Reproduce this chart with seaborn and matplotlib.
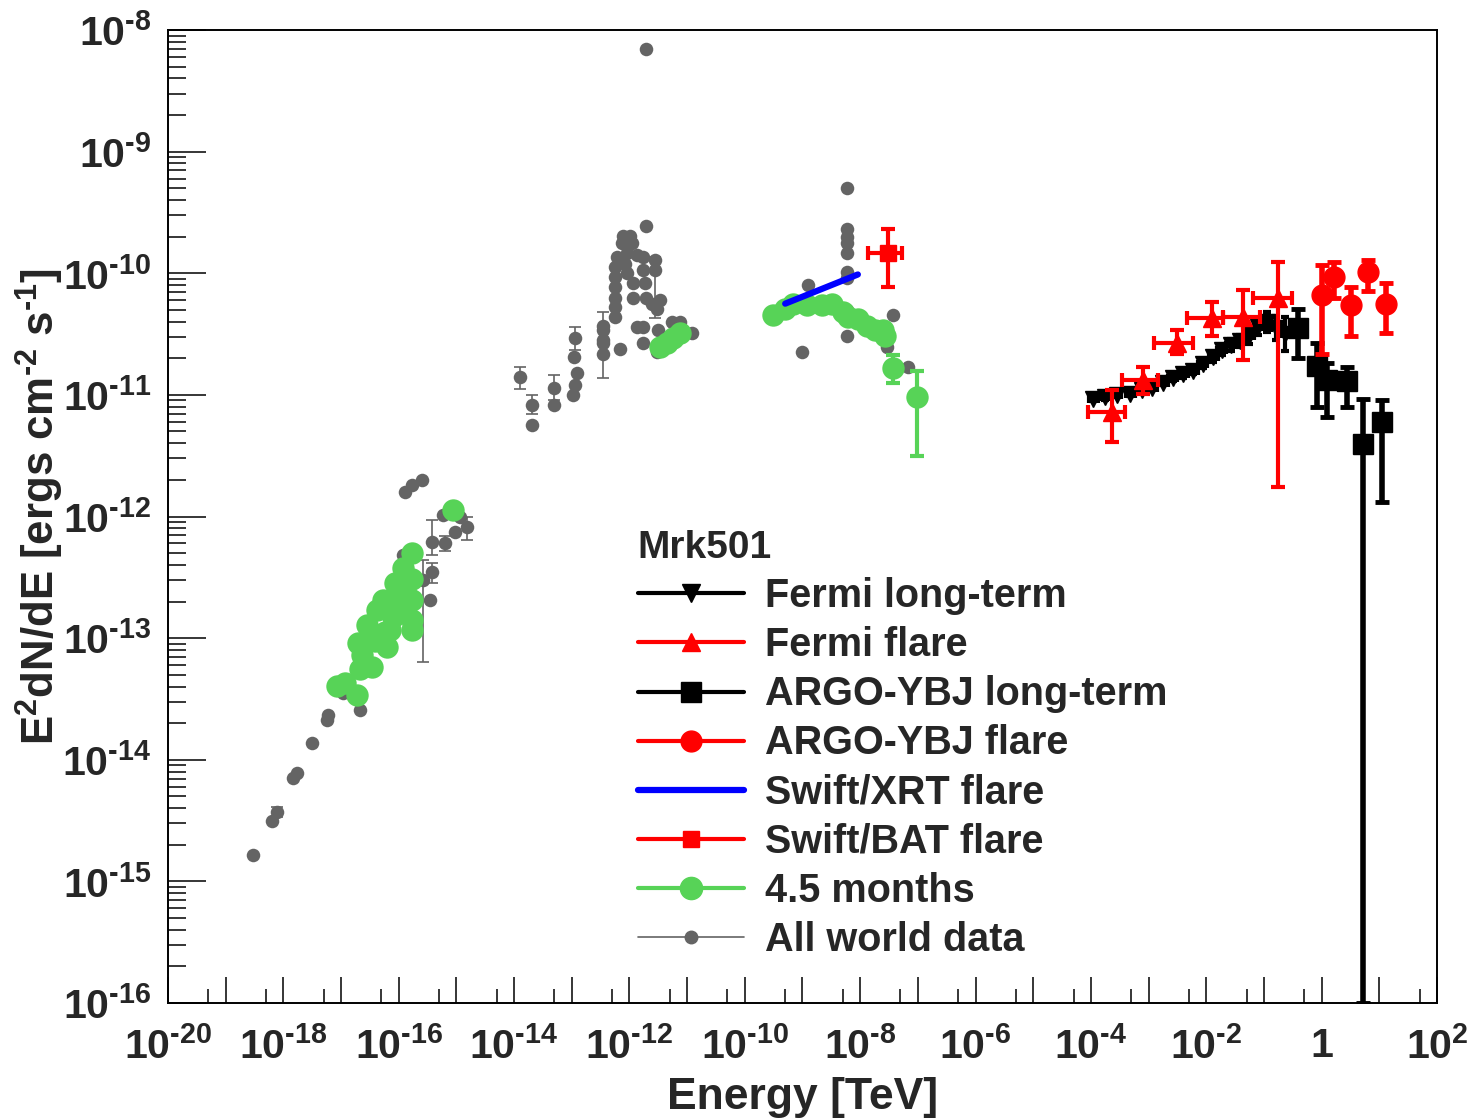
import numpy as np
import pandas as pd
import matplotlib
matplotlib.use("Agg")
import matplotlib.pyplot as plt
import seaborn as sns
from matplotlib.ticker import FixedLocator, FuncFormatter, LogLocator, NullFormatter
from matplotlib.lines import Line2D

# ---------------- data (log10 of Energy [TeV] and of E^2dN/dE [erg cm^-2 s^-1]) -------------
world_logE = [-18.53, -18.20, -18.11, -17.83, -17.76, -17.50, -17.24, -17.23, -16.97, -16.67,
              -15.89, -15.77, -15.60, -15.93, -15.58, -15.42, -15.42, -15.46, -15.23, -15.20,
              -15.02, -14.82, -14.94,
              -13.90, -13.69, -13.69, -13.31, -13.31, -12.94, -12.96, -12.91, -12.94, -12.98,
              -12.46, -12.46, -12.46, -12.16,
              -11.71, -11.71, -12.11, -11.99, -12.13, -11.96, -12.22, -12.04, -11.87, -11.76,
              -11.56, -11.56, -12.25, -12.25, -12.25, -12.25, -12.25, -12.25, -12.07, -12.04,
              -11.94, -11.94, -11.77, -11.73, -11.71, -11.61, -11.52, -11.47, -11.87, -11.76,
              -11.50, -11.76, -11.52, -11.26, -11.12, -10.92, -12.46, -12.46,
              -8.23, -8.23, -8.23, -8.23, -8.23, -8.23, -8.23, -8.90, -9.01, -8.23, -8.23,
              -7.43, -7.53, -7.17]
world_logF = [-14.78, -14.50, -14.43, -14.15, -14.11, -13.86, -13.67, -13.63, -13.45, -13.59,
              -11.80, -11.74, -11.70, -12.32, -12.52, -12.21, -12.46, -12.69, -11.99, -12.22,
              -12.13, -12.09, -12.00,
              -10.85, -11.08, -11.25, -10.94, -11.08, -10.53, -10.69, -10.82, -10.92, -11.00,
              -10.43, -10.57, -10.66, -10.62,
              -8.16, -9.61, -9.69, -9.69, -9.75, -9.75, -9.87, -9.83, -9.85, -9.87,
              -9.89, -9.97, -9.95, -10.03, -10.11, -10.20, -10.28, -10.36, -9.92, -10.00,
              -10.08, -10.20, -9.97, -10.08, -10.20, -10.25, -10.29, -10.22, -10.44, -10.44,
              -10.47, -10.57, -10.65, -10.40, -10.40, -10.49, -10.47, -10.55,
              -9.30, -9.64, -9.70, -9.75, -9.83, -9.99, -10.04, -10.10, -10.65, -10.30, -10.52,
              -10.34, -10.61, -10.77]
# world data points that carry error bars: centre, lower, upper (log10)
world_err_logE = [-18.11, -15.58, -15.42, -15.42, -15.20, -14.82, -13.90, -13.69, -13.31,
                  -12.94, -12.46, -11.56]
world_err_logF = [-14.43, -12.52, -12.21, -12.46, -12.22, -12.09, -10.85, -11.08, -10.94,
                  -10.53, -10.47, -10.10]
world_err_lo = [-14.47, -13.20, -12.32, -12.55, -12.28, -12.19, -10.95, -11.16, -11.04,
                -10.63, -10.86, -10.37]
world_err_hi = [-14.39, -12.36, -12.03, -12.38, -12.16, -12.00, -10.77, -11.00, -10.84,
                -10.44, -10.32, -9.87]

# 4.5 months (green)
m45_logE = [-17.07, -16.93, -16.72, -16.67, -16.46, -16.71, -16.64, -16.55, -16.38, -16.27,
            -16.20, -16.15, -16.06, -16.01, -15.93, -15.98, -15.77, -15.77, -15.77, -15.77,
            -15.77, -15.89, -16.10, -16.24, -16.41, -15.06,
            -11.47, -11.35, -11.24, -11.12,
            -9.51, -9.30, -9.16, -8.92, -8.66, -8.49, -8.30, -8.21, -8.04, -7.88, -7.74,
            -7.60, -7.57]
m45_logF = [-13.39, -13.37, -13.47, -13.25, -13.24, -13.04, -13.14, -12.89, -12.77, -12.69,
            -13.07, -12.93, -12.55, -12.69, -12.42, -12.77, -12.30, -12.51, -12.69, -12.85,
            -12.93, -12.61, -12.83, -12.95, -13.02, -11.95,
            -10.61, -10.57, -10.53, -10.49,
            -10.34, -10.29, -10.25, -10.26, -10.26, -10.25, -10.32, -10.36, -10.38, -10.43,
            -10.47, -10.47, -10.52]
m45_err_logE = [-7.43, -7.01]
m45_err_logF = [-10.78, -11.02]
m45_err_lo = [-10.90, -11.50]
m45_err_hi = [-10.67, -10.80]

# Swift/XRT flare (power-law segment)
xrt_logE = [-9.30, -8.04]
xrt_logF = [-10.25, -10.01]

# Swift/BAT flare
bat_logE = [-7.52]
bat_logF = [-9.83]
bat_logE_lo = [-7.86]
bat_logE_hi = [-7.27]
bat_lo = [-10.11]
bat_hi = [-9.64]

# Fermi long-term
fermiL_logE = [-3.96, -3.76, -3.55, -3.32, -3.11, -2.94, -2.75, -2.58, -2.40, -2.23,
               -2.06, -1.88, -1.73, -1.57, -1.41, -1.26, -1.10, -0.95, -0.79, -0.63]
fermiL_logF = [-11.03, -11.02, -11.00, -10.99, -10.96, -10.94, -10.90, -10.86, -10.83, -10.80,
               -10.75, -10.69, -10.63, -10.59, -10.56, -10.52, -10.44, -10.40, -10.45, -10.50]
fermiL_dF = [0.02, 0.02, 0.02, 0.02, 0.02, 0.02, 0.02, 0.03, 0.03, 0.03,
             0.03, 0.04, 0.04, 0.05, 0.05, 0.06, 0.07, 0.08, 0.10, 0.14]
fermiL_dE = [0.08, 0.08, 0.08, 0.08, 0.08, 0.08, 0.08, 0.08, 0.08, 0.08,
             0.08, 0.08, 0.08, 0.08, 0.08, 0.08, 0.08, 0.08, 0.08, 0.08]

# Fermi flare
fermiF_logE = [-3.63, -3.10, -2.51, -1.90, -1.36, -0.76]
fermiF_logF = [-11.14, -10.88, -10.57, -10.37, -10.36, -10.20]
fermiF_Elo = [-4.05, -3.46, -2.91, -2.33, -1.71, -1.19]
fermiF_Ehi = [-3.41, -2.84, -2.23, -1.71, -1.07, -0.51]
fermiF_lo = [-11.39, -10.99, -10.66, -10.52, -10.71, -11.76]
fermiF_hi = [-10.96, -10.77, -10.47, -10.24, -10.14, -9.91]

# ARGO-YBJ long-term
argoL_logE = [-0.41, -0.08, 0.09, 0.44, 0.72, 1.05]
argoL_logF = [-10.45, -10.76, -10.88, -10.89, -11.40, -11.22]
argoL_lo = [-10.70, -11.10, -11.18, -11.10, -16.00, -11.88]
argoL_hi = [-10.29, -10.57, -10.74, -10.77, -11.03, -11.04]

# ARGO-YBJ flare
argoF_logE = [0.01, 0.22, 0.51, 0.80, 1.12]
argoF_logF = [-10.18, -10.03, -10.26, -9.99, -10.25]
argoF_lo = [-10.66, -10.20, -10.52, -10.15, -10.49]
argoF_hi = [-9.93, -9.91, -10.11, -9.89, -10.08]

legend_labels = ["Fermi long-term", "Fermi flare", "ARGO-YBJ long-term", "ARGO-YBJ flare",
                 "Swift/XRT flare", "Swift/BAT flare", "4.5 months", "All world data"]

# ---------------- style ----------------
sns.set_style("white")
plt.rcParams["font.family"] = ["Liberation Sans", "DejaVu Sans"]
plt.rcParams["font.weight"] = "bold"
plt.rcParams["mathtext.fontset"] = "custom"
plt.rcParams["mathtext.rm"] = "Liberation Sans:bold"
plt.rcParams["mathtext.bf"] = "Liberation Sans:bold"
plt.rcParams["mathtext.it"] = "Liberation Sans:bold"
plt.rcParams["mathtext.default"] = "rm"
plt.rcParams["axes.unicode_minus"] = False

GREY = "#646464"
GREEN = "#57d357"
RED = "#ff0000"
BLUE = "#0000ff"
BLACK = "#000000"


def p10(v):
    return np.power(10.0, np.asarray(v, dtype=float))


def asym(c, lo, hi):
    c, lo, hi = p10(c), p10(lo), p10(hi)
    return np.vstack([c - lo, hi - c])


fig = plt.figure(figsize=(14.71, 11.19), dpi=100)
ax = fig.add_axes([0.1142, 0.10366, 0.86268, 0.86953])
ax.set_xscale("log")
ax.set_yscale("log")

# All world data
ax.errorbar(p10(world_err_logE), p10(world_err_logF),
            yerr=asym(world_err_logF, world_err_lo, world_err_hi),
            fmt="none", ecolor=GREY, elinewidth=1.2, capsize=4, capthick=1.2, zorder=2)
world_df = pd.DataFrame({"E": p10(world_logE), "F": p10(world_logF)})
sns.scatterplot(data=world_df, x="E", y="F", ax=ax, color=GREY, s=95, linewidth=0,
                zorder=3, legend=False)

# 4.5 months
ax.errorbar(p10(m45_err_logE), p10(m45_err_logF),
            yerr=asym(m45_err_logF, m45_err_lo, m45_err_hi),
            fmt="none", ecolor=GREEN, elinewidth=3, capsize=5, capthick=3, zorder=4)
m45_df = pd.DataFrame({"E": p10(m45_logE + m45_err_logE), "F": p10(m45_logF + m45_err_logF)})
sns.scatterplot(data=m45_df, x="E", y="F", ax=ax, color=GREEN, s=260, linewidth=0,
                zorder=5, legend=False)

# Swift/XRT
xrt_df = pd.DataFrame({"E": p10(xrt_logE), "F": p10(xrt_logF)})
sns.lineplot(data=xrt_df, x="E", y="F", ax=ax, color=BLUE, linewidth=4.5, estimator=None,
             zorder=6, legend=False)

# Swift/BAT
ax.errorbar(p10(bat_logE), p10(bat_logF),
            xerr=asym(bat_logE, bat_logE_lo, bat_logE_hi),
            yerr=asym(bat_logF, bat_lo, bat_hi),
            fmt="s", color=RED, ms=11, elinewidth=3, capsize=5, capthick=3, zorder=6)

# Fermi long-term
ax.errorbar(p10(fermiL_logE), p10(fermiL_logF),
            xerr=asym(fermiL_logE, np.subtract(fermiL_logE, fermiL_dE), np.add(fermiL_logE, fermiL_dE)),
            yerr=asym(fermiL_logF, np.subtract(fermiL_logF, fermiL_dF), np.add(fermiL_logF, fermiL_dF)),
            fmt="v", color=BLACK, ms=12, elinewidth=3, capsize=3, capthick=3, zorder=6)

# ARGO long-term
ax.errorbar(p10(argoL_logE), p10(argoL_logF),
            yerr=asym(argoL_logF, argoL_lo, argoL_hi),
            fmt="s", color=BLACK, ms=14, elinewidth=4, capsize=5, capthick=3.5, zorder=6)

# Fermi flare
ax.errorbar(p10(fermiF_logE), p10(fermiF_logF),
            xerr=asym(fermiF_logE, fermiF_Elo, fermiF_Ehi),
            yerr=asym(fermiF_logF, fermiF_lo, fermiF_hi),
            fmt="^", color=RED, ms=13, elinewidth=3, capsize=5, capthick=3, zorder=7)

# ARGO flare
ax.errorbar(p10(argoF_logE), p10(argoF_logF),
            yerr=asym(argoF_logF, argoF_lo, argoF_hi),
            fmt="o", color=RED, ms=15, elinewidth=4, capsize=5, capthick=3.5, zorder=7)

# ---------------- axes ----------------
ax.set_xlim(1e-20, 1e2)
ax.set_ylim(1e-16, 1e-8)

x_exps = np.arange(-20, 3)
ax.xaxis.set_major_locator(FixedLocator(p10(x_exps)))
ax.xaxis.set_minor_locator(FixedLocator(5.0 * p10(np.arange(-21, 2))))


def sup(e):
    if e < 0:
        return r"$10^{\text{-}%d}$" % (-e)
    return r"$10^{%d}$" % e


def xfmt(v, pos):
    e = int(round(np.log10(v)))
    if e % 2:
        return ""
    if e == 0:
        return "1"
    return sup(e)


def yfmt(v, pos):
    return sup(int(round(np.log10(v))))


ax.xaxis.set_major_formatter(FuncFormatter(xfmt))
ax.xaxis.set_minor_formatter(NullFormatter())
ax.yaxis.set_major_locator(FixedLocator(p10(np.arange(-16, -7))))
ax.yaxis.set_minor_locator(LogLocator(base=10, subs=np.arange(2, 10), numticks=40))
ax.yaxis.set_major_formatter(FuncFormatter(yfmt))
ax.yaxis.set_minor_formatter(NullFormatter())

ax.tick_params(axis="both", which="both", direction="in", top=False, right=False,
               bottom=True, left=True, width=1.1, color="black", labelsize=29.5)
ax.tick_params(axis="y", which="major", length=27, pad=12)
ax.tick_params(axis="y", which="minor", length=13)
ax.tick_params(axis="x", which="major", length=19, pad=17)
ax.tick_params(axis="x", which="minor", length=10)

for s in ax.spines.values():
    s.set_linewidth(1.4)
    s.set_color("black")

ax.set_xlabel("Energy [TeV]", fontsize=32, fontweight="bold")
ax.xaxis.set_label_coords(0.5, -0.076)
ax.set_ylabel(r"E$^{2}$dN/dE [ergs cm$^{\text{-}2}$ s$^{\text{-}1}$]", fontsize=31.5,
              fontweight="bold")
ax.yaxis.set_label_coords(-0.080, 0.51)

# ---------------- legend ----------------
handles = [
    Line2D([], [], color=BLACK, lw=3, marker="v", ms=13),
    Line2D([], [], color=RED, lw=3, marker="^", ms=13),
    Line2D([], [], color=BLACK, lw=3, marker="s", ms=14),
    Line2D([], [], color=RED, lw=3, marker="o", ms=15),
    Line2D([], [], color=BLUE, lw=4.5),
    Line2D([], [], color=RED, lw=3, marker="s", ms=11),
    Line2D([], [], color=GREEN, lw=3, marker="o", ms=16),
    Line2D([], [], color=GREY, lw=1.2, marker="o", ms=9),
]
leg = ax.legend(handles, legend_labels, loc="upper left", bbox_to_anchor=(0.370, 0.486),
                frameon=False, title="Mrk501", alignment="left",
                prop={"family": "Liberation Sans", "weight": "bold", "size": 28.5},
                title_fontproperties={"family": "Liberation Sans", "weight": "bold", "size": 28},
                handlelength=2.68, handletextpad=0.55, labelspacing=0.28, borderpad=0,
                borderaxespad=0)

fig.savefig("out.png", dpi=100, facecolor="white")
